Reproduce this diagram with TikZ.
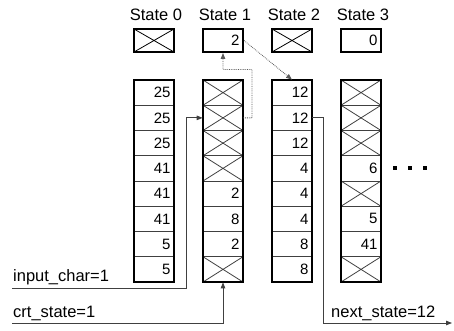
\documentclass[tikz,border=0pt]{standalone}
\usepackage{fontspec}
\setmainfont{Liberation Sans}
\usetikzlibrary{arrows.meta}
\begin{document}
\begin{tikzpicture}[x=1pt,y=-1pt,
  cell/.style={draw=black!75, line width=0.7pt, minimum width=40pt, minimum height=25.25pt,
    inner sep=0pt, text width=33pt, align=right, font=\fontsize{15}{15}\selectfont},
  xcell/.style={cell, path picture={\draw[line width=0.8pt]
    (path picture bounding box.north west) -- (path picture bounding box.south east)
    (path picture bounding box.south west) -- (path picture bounding box.north east);}},
  topbox/.style={draw, line width=2pt, minimum width=40pt, minimum height=23pt,
    inner sep=0pt, text width=33pt, align=right, font=\fontsize{15}{15}\selectfont},
  xtopbox/.style={topbox, path picture={\draw[line width=0.8pt]
    (path picture bounding box.north west) -- (path picture bounding box.south east)
    (path picture bounding box.south west) -- (path picture bounding box.north east);}},
  colframe/.style={draw, line width=2pt},
  lbl/.style={font=\fontsize{16.5}{16.5}\selectfont, inner sep=0pt},
  conn/.style={draw=black!75, line width=0.8pt},
  tip/.style={-{Triangle[length=6pt,width=4.5pt]}},
  dotconn/.style={draw=black!65, line width=0.8pt, densely dotted},
  sqdot/.style={fill, minimum size=4pt, inner sep=0pt}
]
\useasboundingbox (0,0) rectangle (454,331);
\def\xmark{X}
% columns
\foreach \c/\xc/\vals in {0/154/{25,25,25,41,41,41,5,5},1/223/{X,X,X,X,2,8,2,X},2/292/{12,12,12,4,4,4,8,8},3/361/{X,X,X,6,X,5,41,X}}{
  \foreach \v [count=\i from 0] in \vals {
    \ifx\v\xmark
      \node[xcell] (c\c r\i) at (\xc, {80+25.25*(\i+0.5)}) {};
    \else
      \node[cell] (c\c r\i) at (\xc, {80+25.25*(\i+0.5)}) {\v};
    \fi
  }
  \draw[colframe] (c\c r0.north west) rectangle (c\c r7.south east);
}
% top state boxes and labels
\node[xtopbox] (s0) at (154,40.5) {};
\node[topbox]  (s1) at (223,40.5) {2};
\node[xtopbox] (s2) at (292,40.5) {};
\node[topbox]  (s3) at (361,40.5) {0};
\foreach \i/\xc in {0/154,1/223,2/292,3/361}{
  \node[lbl, anchor=base] (l\i) at (\xc+2,21) {State \i};
}
% ellipsis
\node[sqdot] (d1) at (395,168) {};
\node[sqdot] (d2) at (410,168) {};
\node[sqdot] (d3) at (425,168) {};
% input_char
\node[lbl, anchor=base west] (tin) at (13,281) {input\_char=1};
\coordinate (in0) at (12,288.3);
\coordinate (in1) at (186,288.3);
\draw[conn,tip] (in0) -- (in1) |- (c1r1.west);
% crt_state
\node[lbl, anchor=base west] (tcrt) at (13,317) {crt\_state=1};
\coordinate (cs0) at (12,323);
\draw[conn,tip] (cs0) -| (c1r7.south);
% next_state
\node[lbl, anchor=base west] (tnext) at (331,317) {next\_state=12};
\coordinate (ns0) at (323,323);
\coordinate (ns1) at (452,323);
\draw[conn,tip] (c2r1.east) -| (ns0) -- (ns1);
% dotted connectors
\coordinate (dt0) at (252,117.9);
\coordinate (dt1) at (252,69.5);
\draw[dotconn,tip] (c1r1.east) -- (dt0) -- (dt1) -| (s1.south);
\draw[dotconn,tip] (s1.east) -- (c2r0.north);
\end{tikzpicture}
\end{document}
